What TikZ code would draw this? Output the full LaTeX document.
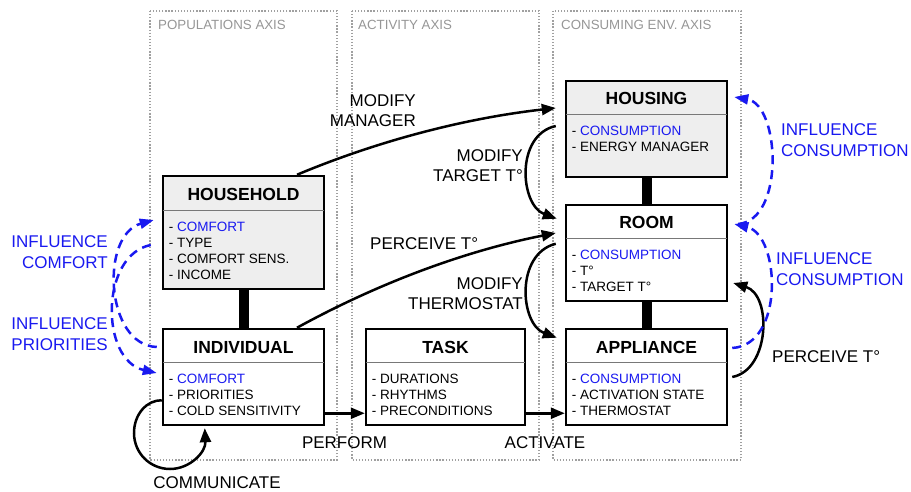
\documentclass[tikz,border=0pt]{standalone}
\usepackage{fontspec}
\setmainfont{Liberation Sans}
\usetikzlibrary{arrows.meta,calc}
\definecolor{infblue}{RGB}{25,25,240}
\definecolor{axisgray}{RGB}{150,150,150}
\definecolor{dotgray}{RGB}{160,160,160}
\definecolor{boxfill}{RGB}{238,238,238}
\definecolor{sepgray}{RGB}{120,120,120}
\begin{document}
\begin{tikzpicture}[x=1pt,y=-1pt,
  axisbox/.style={draw=dotgray, line width=1.3pt, dash pattern=on 1.3pt off 1.8pt},
  axislabel/.style={text=axisgray, font=\fontsize{13.3}{16}\selectfont, anchor=west, inner sep=0pt},
  umlbox/.style={draw, line width=2.5pt, minimum width=161pt, minimum height=96pt, inner sep=0pt},
  sepline/.style={draw=sepgray, line width=0.9pt},
  linkbar/.style={line width=10pt},
  boxtitle/.style={font=\fontsize{17.5}{20}\selectfont\bfseries, inner sep=0pt},
  attrs/.style={font=\fontsize{13.5}{16}\selectfont, align=left, anchor=west, inner sep=0pt},
  lbl/.style={font=\fontsize{17}{20}\selectfont, inner sep=0pt},
  blbl/.style={font=\fontsize{17}{21}\selectfont, inner sep=0pt, text=infblue},
  arr/.style={line width=2.5pt, -{Triangle[length=14pt,width=11pt]}},
  infl/.style={draw=infblue, line width=2.5pt, dash pattern=on 9pt off 6pt, -{Triangle[length=14pt,width=10pt]}}
]
\useasboundingbox (0,0) rectangle (911,492);

% axes
\draw[axisbox] (150,11) rectangle (337,460);
\draw[axisbox] (352,11) rectangle (539,460);
\draw[axisbox] (553,11) rectangle (741,460);
\node[axislabel] (axpop) at (158,25) {POPULATIONS AXIS};
\node[axislabel] (axact) at (358,25) {ACTIVITY AXIS};
\node[axislabel] (axcons) at (561,25) {CONSUMING ENV. AXIS};

% links
\draw[linkbar] (243.5,289) -- (243.5,329);
\draw[linkbar] (646.5,177) -- (646.5,205);
\draw[linkbar] (646.5,301) -- (646.5,329);

% boxes
\node[umlbox, fill=boxfill, minimum height=113pt] (household) at (243.5,232.5) {};
\node[umlbox] (individual) at (243.5,377) {};
\node[umlbox, minimum width=159pt] (task) at (445.5,377) {};
\node[umlbox] (appliance) at (646.5,377) {};
\node[umlbox] (room) at (646.5,253) {};
\node[umlbox, fill=boxfill] (housing) at (646.5,129) {};

\foreach \b/\d in {household/36,individual/35,task/35,appliance/35,room/35,housing/35}{
  \draw[sepline] ($(\b.north west)+(1.2,\d)$) -- ($(\b.north east)+(-1.2,\d)$);
}

% titles
\node[boxtitle] (householdT) at ($(household.north)+(0,19.5)$) {HOUSEHOLD};
\node[boxtitle] (individualT) at ($(individual.north)+(0,19.5)$) {INDIVIDUAL};
\node[boxtitle] (taskT) at ($(task.north)+(0,19.5)$) {TASK};
\node[boxtitle] (applianceT) at ($(appliance.north)+(0,19.5)$) {APPLIANCE};
\node[boxtitle] (roomT) at ($(room.north)+(0,18.5)$) {ROOM};
\node[boxtitle] (housingT) at ($(housing.north)+(0,18.5)$) {HOUSING};

% attributes
\node[attrs] (householdA) at ($(household.north west)+(7,76.5)$) {- \textcolor{infblue}{COMFORT}\\- TYPE\\- COMFORT SENS.\\- INCOME};
\node[attrs] (individualA) at ($(individual.north west)+(7,67.5)$) {- \textcolor{infblue}{COMFORT}\\- PRIORITIES\\- COLD SENSITIVITY};
\node[attrs] (taskA) at ($(task.north west)+(7,67.5)$) {- DURATIONS\\- RHYTHMS\\- PRECONDITIONS};
\node[attrs] (applianceA) at ($(appliance.north west)+(7,67.5)$) {- \textcolor{infblue}{CONSUMPTION}\\- ACTIVATION STATE\\- THERMOSTAT};
\node[attrs] (roomA) at ($(room.north west)+(7,67.5)$) {- \textcolor{infblue}{CONSUMPTION}\\- T°\\- TARGET T°};
\node[attrs] (housingA) at ($(housing.north west)+(7,59.5)$) {- \textcolor{infblue}{CONSUMPTION}\\- ENERGY MANAGER};

% labels
\node[lbl, align=right, anchor=east] (lmanager) at (416,111) {MODIFY\\MANAGER};
\node[lbl, align=right, anchor=east] (ltarget) at (523,165.5) {MODIFY\\TARGET T°};
\node[lbl, anchor=west] (lperc1) at (370,244) {PERCEIVE T°};
\node[lbl, align=right, anchor=east] (ltherm) at (523,294) {MODIFY\\THERMOSTAT};
\node[lbl] (lperform) at (344.5,443) {PERFORM};
\node[lbl] (lactivate) at (545,443) {ACTIVATE};
\node[lbl] (lcomm) at (217,483) {COMMUNICATE};
\node[lbl, anchor=west] (lperc2) at (772,357) {PERCEIVE T°};
\node[blbl, align=left, anchor=west] (linf1) at (781,140.5) {INFLUENCE\\CONSUMPTION};
\node[blbl, align=left, anchor=west] (linf2) at (776,269.5) {INFLUENCE\\CONSUMPTION};
\node[blbl, align=right, anchor=east] (linf3) at (108,252.5) {INFLUENCE\\COMFORT};
\node[blbl, align=right, anchor=east] (linf4) at (108,334.5) {INFLUENCE\\PRIORITIES};

% black connectors
\draw[arr] ($(household.north)+(53.5,0)$) .. controls (380,140) and (467,118) .. ($(housing.west)+(-9,-21)$);
\draw[arr] ($(individual.north)+(53.5,0)$) .. controls (378.6,283) and (465,251) .. ($(room.west)+(-9,-20)$);
\draw[arr] ($(housing.west)+(-9,-3)$) .. controls (515,135) and (520,205) .. ($(room.north west)+(-8,15)$);
\draw[arr] ($(room.north west)+(-9,40)$) .. controls (515,254) and (520,324) .. ($(appliance.north west)+(-8,10)$);
\draw[arr] ($(appliance.east)+(4,0)$) .. controls (770,370) and (772,295) .. ($(room.east)+(5,30)$);
\draw[arr] ($(individual.south east)+(0,-13)$) -- ($(task.south west)+(0,-13)$);
\draw[arr] ($(task.south east)+(0,-13)$) -- ($(appliance.south west)+(0,-13)$);
\draw[arr] ($(individual.south west)+(0,-26)$) .. controls (147,400) and (134,414) .. (134,433)
  .. controls (134,453) and (150,469) .. (170,469)
  .. controls (190,469) and (206,452) .. ($(individual.south west)+(43,2)$);

% blue influence connectors
\draw[infl] ($(household.west)+(-11,12.5)$) .. controls (100,255) and (100,360) .. ($(individual.west)+(-5,-4)$);
\draw[infl] ($(individual.west)+(-5,-30)$) .. controls (105,345) and (100,235) .. ($(household.west)+(-8,-12.5)$);
\draw[infl] ($(appliance.east)+(4,-29)$) .. controls (785,345) and (780,235) .. ($(room.east)+(6,-29)$);
\draw[infl] ($(room.east)+(10,-29)$) .. controls (785,220) and (780,105) .. ($(housing.east)+(6,-32)$);
\end{tikzpicture}
\end{document}
